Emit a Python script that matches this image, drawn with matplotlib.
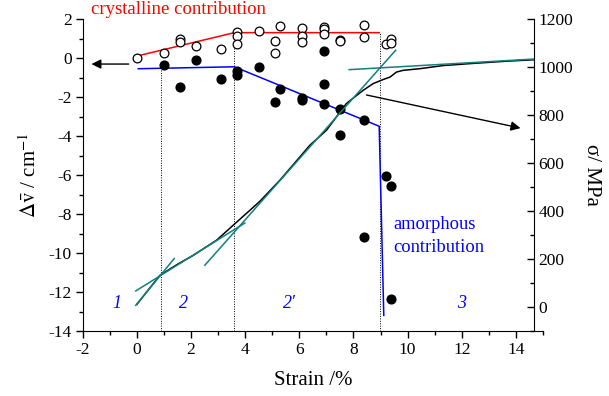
import matplotlib

matplotlib.use("Agg")
from matplotlib import pyplot as plt
from matplotlib.ticker import MultipleLocator

plt.rcParams["font.family"] = ["Liberation Serif", "DejaVu Serif"]
plt.rcParams["mathtext.fontset"] = "stix"
plt.rcParams["axes.unicode_minus"] = False

# Raman band shift of the crystalline phase (open circles)
cryst_strain = [0.0, 1.0, 1.6, 1.6, 2.2, 3.1, 3.7, 3.7, 3.7, 4.5, 5.1, 5.1, 5.3,
                6.1, 6.1, 6.1, 6.9, 6.9, 6.9, 7.5, 7.5, 8.4, 8.4, 9.2, 9.4, 9.4]
cryst_shift = [0.0, 0.27, 0.97, 0.84, 0.62, 0.48, 1.33, 1.14, 0.70, 1.38, 0.89, 0.27, 1.63,
               1.56, 1.12, 0.81, 1.59, 1.50, 1.22, 0.94, 0.87, 1.69, 1.08, 0.70, 0.96, 0.75]

# Raman band shift of the amorphous phase (filled circles)
amorph_strain = [1.0, 1.6, 2.2, 3.1, 3.7, 3.7, 4.5, 5.1, 5.3, 6.1, 6.1, 6.9, 6.9, 6.9,
                 7.5, 7.5, 8.4, 8.4, 9.2, 9.4, 9.4]
amorph_shift = [-0.37, -1.47, -0.10, -1.08, -0.67, -0.86, -0.47, -2.27, -1.58, -2.04, -2.17,
                0.36, -1.33, -2.36, -2.63, -3.93, -3.19, -9.20, -6.03, -6.56, -12.34]

# guide lines through the two data sets
cryst_fit_x = [0.0, 3.6, 8.95]
cryst_fit_y = [0.1, 1.3, 1.3]
amorph_fit_x = [0.05, 3.6, 8.95, 9.12]
amorph_fit_y = [-0.55, -0.45, -3.5, -13.2]

# stress-strain curve (right axis)
curve_strain = [0.0, 0.4, 0.85, 1.5, 2.08, 2.94, 3.62, 4.54, 5.28, 6.39, 7.0, 7.74, 8.36,
                8.73, 9.1, 9.35, 9.59, 9.83, 10.45, 11.31, 12.54, 13.77, 14.64]
curve_stress = [11, 68, 132, 178, 215, 278, 347, 440, 528, 674, 736, 848, 903,
                931, 948, 958, 979, 986, 993, 1006, 1016, 1025, 1030]

# tangents to the stress-strain curve
tangents = [
    ([-0.04, 1.38], [7, 202]),
    ([-0.04, 3.99], [67, 350]),
    ([2.51, 9.56], [174, 1070]),
    ([7.84, 14.64], [989, 1033]),
]

# region boundaries and labels
boundaries = [0.91, 3.58, 8.97]
boundary_tops = [-0.53, 1.3, 1.3]
region_labels = ["1", "2", "2\u2032", "3"]
region_x = [-0.73, 1.74, 5.65, 11.99]

fig = plt.figure(figsize=(6.09, 3.96), dpi=100)
ax = fig.add_axes([0.1358, 0.1641, 0.7558, 0.7879])
ax2 = ax.twinx()

ax.set_xlim(-2, 15)
ax.set_ylim(-14, 2)
ax2.set_ylim(-100, 1200)

for xb, top in zip(boundaries, boundary_tops):
    ax.plot([xb, xb], [-14, top], color="k", ls=(0, (1, 1.5)), lw=0.7)

ax.plot(cryst_fit_x, cryst_fit_y, color="#ff0000", lw=1.1)
ax.plot(amorph_fit_x, amorph_fit_y, color="#0000ff", lw=1.1)
ax.plot(cryst_strain, cryst_shift, "o", mfc="white", mec="k", mew=0.9, ms=6.3)
ax.plot(amorph_strain, amorph_shift, "o", color="k", ms=6.3)

ax2.plot(curve_strain, curve_stress, color="k", lw=1.1)
for tx, ty in tangents:
    ax2.plot(tx, ty, color="#11807e", lw=1.1)

ax.annotate("", xy=(-1.78, -0.31), xytext=(-0.2, -0.31),
            arrowprops=dict(arrowstyle="-|>", color="k", lw=1, mutation_scale=14))
ax2.annotate("", xy=(14.27, 743), xytext=(8.38, 886),
             arrowprops=dict(arrowstyle="-|>", color="k", lw=1, mutation_scale=14))

ax.text(-1.68, 2.5, "crystalline contribution", color="#ff0000", fontsize=13.5,
        va="center", ha="left")
ax.text(9.47, -9.13, "amorphous\ncontribution", color="#0000ff", fontsize=13.3,
        va="center", ha="left", linespacing=1.4)
for lab, xl in zip(region_labels, region_x):
    ax.text(xl, -12.6, lab, color="#0000ff", fontsize=13, style="italic",
            ha="center", va="center")

# axes styling
for s in ["top", "right"]:
    ax.spines[s].set_visible(False)
for s in ["top", "left", "bottom"]:
    ax2.spines[s].set_visible(False)
ax2.spines["right"].set_position(("data", 14.68))

ax.xaxis.set_major_locator(MultipleLocator(2))
ax.xaxis.set_minor_locator(MultipleLocator(1))
ax.yaxis.set_major_locator(MultipleLocator(2))
ax.yaxis.set_minor_locator(MultipleLocator(1))
ax2.yaxis.set_minor_locator(MultipleLocator(100))
ax2.set_yticks([0, 200, 400, 600, 800, 1000, 1200])

ax.tick_params(which="major", direction="out", length=5, width=1, labelsize=12.5, pad=3)
ax.tick_params(which="minor", direction="out", length=3, width=1)
ax2.tick_params(which="major", direction="in", length=5, width=1, labelsize=12.5, pad=3)
ax2.tick_params(which="minor", direction="in", length=3, width=1)

ax.set_xlabel("Strain /%", fontsize=15, labelpad=9)
ax.set_ylabel(r"$\Delta\bar{\mathrm{v}}$ / cm$^{\mathrm{-1}}$", fontsize=15, labelpad=5)
ax2.set_ylabel("\u03c3/ MPa", fontsize=15, rotation=270, labelpad=20)

fig.savefig("out.png", dpi=100)
